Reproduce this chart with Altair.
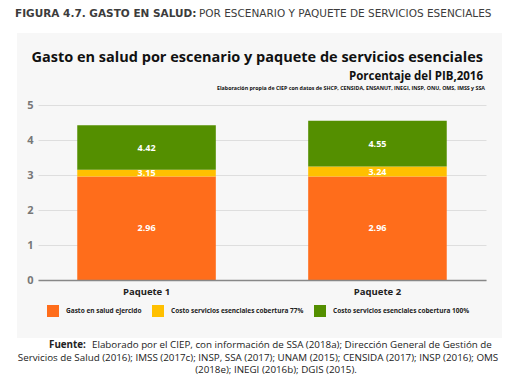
import altair as alt
import pandas as pd

# ---- data ----
paquetes = ["Paquete 1", "Paquete 2"]
series = [
    "Gasto en salud ejercido",
    "Costo servicios esenciales cobertura 77%",
    "Costo servicios esenciales cobertura 100%",
]
acumulado_p1 = [2.96, 3.15, 4.42]
acumulado_p2 = [2.96, 3.24, 4.55]
colores = ["#FF6D1B", "#FFC000", "#548F00"]
ticks_y = [0, 1, 2, 3, 4, 5]

rows = []
for paq, acum in zip(paquetes, [acumulado_p1, acumulado_p2]):
    base = 0.0
    for i, (s, a) in enumerate(zip(series, acum)):
        rows.append({"paquete": paq, "serie": s, "orden": i, "base": base,
                     "acumulado": a, "medio": (base + a) / 2,
                     "etiqueta": f"{a:.2f}"})
        base = a
df = pd.DataFrame(rows)

W, H = 448, 175
FONT = "Open Sans"
one = pd.DataFrame({"k": [0]})

yscale = alt.Scale(domain=[0, 5], nice=False)


def strip(x, x2, y, y2):
    return alt.Chart(one).mark_rect(color="white").encode(
        x=alt.value(x), x2=alt.value(x2), y=alt.value(y), y2=alt.value(y2))


strips = [
    strip(-30, 474, -97, -72),
    strip(-30, 474, 233, 277),
    strip(-30, -21, -72, 233),
    strip(464, 474, -72, 233),
]

bars = alt.Chart(df).mark_bar().encode(
    x=alt.X("paquete:N", sort=paquetes,
            scale=alt.Scale(paddingInner=0.4, paddingOuter=0.17),
            axis=alt.Axis(title=None, labelAngle=0, ticks=False, domainColor="#888888",
                          domainWidth=1.5, labelFont=FONT, labelFontWeight="bold",
                          labelFontSize=9.5, labelColor="#222222", labelPadding=6,
                          zindex=1)),
    y=alt.Y("base:Q", scale=yscale,
            axis=alt.Axis(title=None, values=ticks_y, tickCount=6, grid=True,
                          gridColor="#dedede", gridWidth=1,
                          gridOpacity=1, domain=False,
                          ticks=False, labelFont=FONT, labelFontSize=11,
                          labelFontWeight="bold", labelColor="#777777", labelPadding=5,
                          labelOverlap=False, labelFlush=False)),
    y2="acumulado:Q",
    color=alt.Color("serie:N", sort=series,
                    scale=alt.Scale(domain=series, range=colores),
                    legend=alt.Legend(title=None, orient="none", legendX=9, legendY=200,
                                      direction="horizontal", symbolType="square",
                                      symbolSize=144, symbolStrokeWidth=0,
                                      symbolOpacity=1, labelFont=FONT,
                                      labelFontSize=6.5, labelFontWeight="bold",
                                      labelColor="#222222", columnPadding=10,
                                      labelOffset=7)),
)

labels = alt.Chart(df).mark_text(color="white", font=FONT, fontWeight="bold",
                                 fontSize=9).encode(
    x=alt.X("paquete:N", sort=paquetes),
    y=alt.Y("medio:Q", scale=yscale),
    text="etiqueta:N",
)


def txt(s, x, y, size, weight="normal", align="left", color="#222222", font=FONT):
    return alt.Chart(one).mark_text(font=font, fontSize=size, fontWeight=weight,
                                    align=align, baseline="alphabetic",
                                    color=color).encode(
        x=alt.value(x), y=alt.value(y), text=alt.value(s))


texts = [
    txt("FIGURA 4.7. GASTO EN SALUD:", -23, -88, 10.5, "bold", color="#3c3c3c", font="DejaVu Sans"),
    txt("POR ESCENARIO Y PAQUETE DE SERVICIOS ESENCIALES", 161, -88, 10.5, color="#3c3c3c", font="DejaVu Sans"),
    txt("Gasto en salud por escenario y paquete de servicios esenciales", 445, -43.5, 14.5, "bold", "right", "#111111"),
    txt("Porcentaje del PIB,2016", 445, -25.5, 11.5, "bold", "right", "#111111"),
    txt("Elaboración propia de CIEP con datos de SHCP, CENSIDA, ENSANUT, INEGI, INSP, ONU, OMS, IMSS y SSA",
        447, -15, 5.3, "bold", "right", "#111111"),
    txt("Fuente:", 11, 243, 9.8, "bold"),
    txt("Elaborado por el CIEP, con información de SSA (2018a); Dirección General de Gestión de", 54, 243, 9.8),
    txt("Servicios de Salud (2016); IMSS (2017c); INSP, SSA (2017); UNAM (2015); CENSIDA (2017); INSP (2016); OMS",
        220, 255.5, 9.8, align="center"),
    txt("(2018e); INEGI (2016b); DGIS (2015).", 238, 268, 9.8, align="center"),
]

chart = alt.layer(*strips, bars, labels, *texts).properties(
    width=W, height=H,
    autosize=alt.AutoSizeParams(type="none"),
    padding={"left": 30, "right": 26, "top": 97, "bottom": 102},
    background="#f7f7f7",
).configure_view(stroke=None)

chart.save("out.html", embed_options={"renderer": "svg", "actions": False})
